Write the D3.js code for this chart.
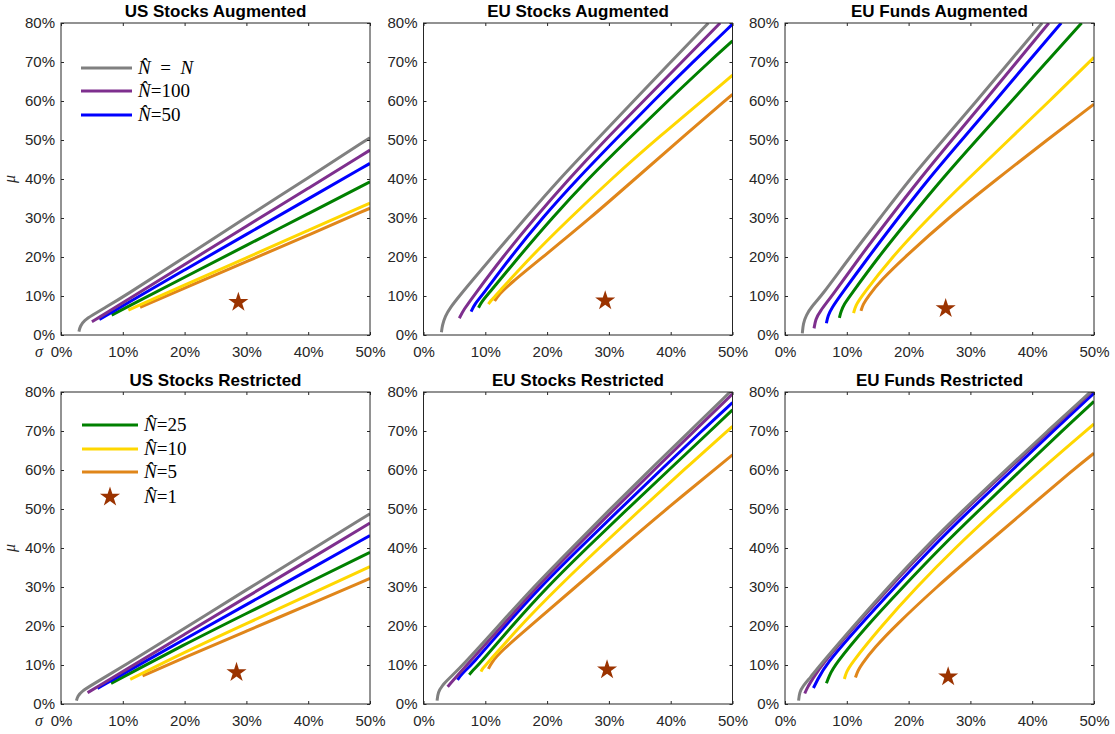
<!DOCTYPE html>
<html>
<head>
<meta charset="utf-8">
<script src="https://cdn.jsdelivr.net/npm/d3@7"></script>
<style>
  body { margin: 0; background: #fff; }
  svg { display: block; }
</style>
</head>
<body>
<svg id="svg1" width="1115" height="734"></svg>
<script>
// panel titles, row by row
var titles = ['US Stocks Augmented', 'EU Stocks Augmented', 'EU Funds Augmented',
              'US Stocks Restricted', 'EU Stocks Restricted', 'EU Funds Restricted'];

// series (drawn in this order in the legend)
var seriesNames = ['= N', '=100', '=50', '=25', '=10', '=5', '=1'];
var seriesColors = ['#808080', '#7e2f8e', '#0000ff', '#008000', '#ffd700', '#e0861a', '#9b3300'];

var xTicks = [0, 10, 20, 30, 40, 50];
var yTicks = [0, 10, 20, 30, 40, 50, 60, 70, 80];

// frontier points [sigma %, mu %] per panel: gray, purple, blue, green, yellow, orange
var usStocksAug = [
    [[2.9,0.85],[3.1,2.3],[3.8,3.8],[5,5.0],[7,6.9],[10,9.7],[20,19.9],[30,30.2],[40,40.3],[50,50.6]],
    [[5.0,3.4],[7,5.3],[10,8.3],[20,18.1],[30,27.9],[40,37.6],[50,47.4]],
    [[6.2,4.0],[8,5.6],[10,7.5],[20,16.7],[30,25.8],[40,34.9],[50,44.0]],
    [[8.2,5.1],[10,6.6],[20,14.8],[30,23.0],[40,31.1],[50,39.3]],
    [[10.9,6.4],[20,12.8],[30,19.8],[40,26.8],[50,33.8]],
    [[12.8,7.1],[20,12.0],[30,18.8],[40,25.6],[50,32.5]]
];
var euStocksAug = [
    [[2.9,0.7],[3.05,2.5],[3.5,4.8],[4.3,7.0],[5.9,10.2],[8,14.2],[11.1,20],[16.5,30],[22,40],[28.0,50],[34,60],[40,70],[46.1,80]],
    [[5.8,4.3],[6.5,6.5],[8.1,10],[12.8,20],[18,30],[23.5,40],[29.4,50],[35.6,60],[41.8,70],[48,80]],
    [[7.7,6.0],[8.3,8],[9.4,10],[14.1,20],[19.2,30],[24.9,40],[31,50],[37.2,60],[43.6,70],[50,79.7]],
    [[8.9,7.0],[9.4,8.5],[10.2,10],[15.4,20],[20.8,30],[26.6,40],[33,50],[39.5,60],[46.2,70],[50,75.4]],
    [[10.5,7.9],[11,9],[11.6,10],[17.3,20],[23.7,30],[30.4,40],[37.5,50],[50,66.6]],
    [[11.5,8.7],[12.1,10.2],[13.8,12.9],[19.7,20.5],[27,30],[34.2,40],[41.4,50],[50,61.7]]
];
var euFundsAug = [
    [[2.8,0.4],[2.95,3],[3.4,5],[4.3,7.3],[5.9,10],[10.5,20],[15.4,30],[20.2,40],[25.6,50],[31,60],[36.3,70],[41.6,80]],
    [[4.7,1.7],[4.95,4],[5.6,6],[7.6,10],[12.1,20],[16.9,30],[21.8,40],[27,50],[32.3,60],[37.5,70],[42.7,80]],
    [[6.7,3.0],[6.95,5],[7.6,7],[8.9,10],[13.5,20],[18.3,30],[23.2,40],[28.6,50],[34,60],[39.3,70],[44.7,80]],
    [[8.8,4.4],[9.05,6],[9.6,8],[10.5,10],[15.1,20],[20.2,30],[25.4,40],[31,50],[36.7,60],[42.3,70],[48,80]],
    [[11.1,5.6],[11.4,7.5],[12.4,10],[17.3,20],[23.2,30],[29.6,40],[36.2,50],[42.8,60],[50,71.2]],
    [[12.3,6.2],[12.6,7.8],[13.5,10],[15.5,14],[19.4,20],[26.4,30],[34.3,40],[42.4,50],[50,59.2]]
];
var usStocksRes = [
    [[2.5,0.86],[2.7,2.0],[3.4,3.3],[5,4.9],[10,9.6],[20,19.4],[30,29.3],[40,39.0],[50,48.8]],
    [[4.3,2.9],[6,4.5],[10,8.3],[20,17.9],[30,27.4],[40,36.9],[50,46.4]],
    [[5.9,4.0],[10,7.7],[20,16.6],[30,25.5],[40,34.3],[50,43.2]],
    [[8.1,5.3],[20,15.3],[30,23.2],[40,31.1],[50,38.9]],
    [[11.2,6.3],[20,13.3],[30,20.6],[40,27.9],[50,35.2]],
    [[13.2,7.2],[20,11.9],[30,18.7],[40,25.4],[50,32.2]]
];
var euStocksRes = [
    [[2.2,0.85],[2.35,3],[3.0,4.7],[4.1,6.5],[6.4,10],[12.1,20],[17.8,30],[24.0,40],[30.2,50],[36.6,60],[43.1,70],[49.6,80]],
    [[3.9,4.4],[4.6,5.7],[7.0,10],[12.7,20],[18.3,30],[24.5,40],[30.9,50],[37.3,60],[43.8,70],[50,79.5]],
    [[5.5,6.2],[6.2,7.8],[7.8,10],[13.2,20],[18.9,30],[25.3,40],[31.8,50],[38.4,60],[45.0,70],[50,77.3]],
    [[7.4,7.5],[7.9,8.5],[8.9,10],[14.3,20],[20,30],[26.4,40],[33.0,50],[39.7,60],[46.4,70],[50,75.4]],
    [[9.3,8.3],[9.6,9.2],[10.1,10],[15.6,20],[21.8,30],[28.4,40],[35.2,50],[42.1,60],[50,71.2]],
    [[10.5,9.0],[11,10.6],[12.5,13.5],[17.3,20],[24.6,30],[31.9,40],[39.3,50],[50,63.9]]
];
var euFundsRes = [
    [[2.2,0.85],[2.35,3.0],[2.9,4.6],[4.1,6.8],[5.7,10],[11.1,20],[16.7,30],[22.6,40],[29.0,50],[35.7,60],[42.5,70],[49.4,80]],
    [[3.2,2.7],[3.6,4.2],[4.5,6.5],[5.9,10],[11.3,20],[17,30],[22.9,40],[29.3,50],[36.0,60],[42.8,70],[49.6,80]],
    [[4.6,4.1],[5.2,6],[6.5,10],[12,20],[17.8,30],[23.7,40],[30.1,50],[36.8,60],[43.4,70],[50,79.7]],
    [[6.7,5.3],[7.1,7],[8,10],[13.2,20],[19.1,30],[25.1,40],[31.6,50],[38.2,60],[44.8,70],[50,77.6]],
    [[9.6,6.4],[9.9,8],[10.5,10],[15.6,20],[21.3,30],[27.5,40],[34.3,50],[41.3,60],[50,71.8]],
    [[11.4,6.8],[11.8,8.5],[12.3,10],[14.5,14.5],[17.8,20],[24.5,30],[31.8,40],[39.2,50],[46.6,60],[50,64.3]]
];

// single portfolio (N hat = 1) per panel
var starSigma = [28.7, 29.4, 26.0, 28.4, 29.7, 26.4];
var starMu = [8.4, 8.8, 6.8, 8.1, 8.8, 7.0];

var panels = [usStocksAug, euStocksAug, euFundsAug, usStocksRes, euStocksRes, euFundsRes];

var svg = d3.select('#svg1');

var lefts = [61, 423.5, 785];
var tops = [23, 392];
var pw = 309, ph = 312;
var tickCol = '#262626';
var sansFont = '"Liberation Sans", Arial, Helvetica, sans-serif';
var serifFont = '"Liberation Serif", "Times New Roman", serif';

var x = d3.scaleLinear().domain([0, 50]).range([0, pw]);
var y = d3.scaleLinear().domain([0, 80]).range([ph, 0]);

// basis spline smooths out the small reading errors between points
var line = d3.line()
    .x(function(d) { return x(d[0]); })
    .y(function(d) { return y(d[1]); })
    .curve(d3.curveBasis);

var star = d3.symbol().type(d3.symbolStar).size(125);

panels.forEach(function(curves, i) {
    var col = i % 3, row = Math.floor(i / 3);
    var g = svg.append('g')
        .attr('transform', 'translate(' + lefts[col] + ',' + tops[row] + ')');

    g.append('clipPath').attr('id', 'clip' + i)
        .append('rect').attr('width', pw).attr('height', ph);

    var plot = g.append('g').attr('clip-path', 'url(#clip' + i + ')');

    // draw star first, then curves from orange up to gray (gray ends on top)
    plot.append('path')
        .attr('d', star)
        .attr('transform', 'translate(' + x(starSigma[i]) + ',' + y(starMu[i]) + ')')
        .attr('fill', seriesColors[6]);

    for (var k = curves.length - 1; k >= 0; k--) {
        plot.append('path')
            .datum(curves[k])
            .attr('d', line)
            .attr('fill', 'none')
            .attr('stroke', seriesColors[k])
            .attr('stroke-width', 3)
            .attr('stroke-linecap', 'butt');
    }

    // axes with ticks pointing inside, box on
    var ax = g.append('g').attr('transform', 'translate(0,' + ph + ')')
        .call(d3.axisBottom(x).tickValues(xTicks).tickSize(-3).tickPadding(11)
            .tickFormat(function(d) { return d + '%'; }));
    var ay = g.append('g')
        .call(d3.axisLeft(y).tickValues(yTicks).tickSize(-3).tickPadding(6)
            .tickFormat(function(d) { return d + '%'; }));
    var axT = g.append('g')
        .call(d3.axisTop(x).tickValues(xTicks).tickSize(-3).tickFormat(''));
    var ayR = g.append('g').attr('transform', 'translate(' + pw + ',0)')
        .call(d3.axisRight(y).tickValues(yTicks).tickSize(-3).tickFormat(''));

    [ax, ay, axT, ayR].forEach(function(a) {
        a.select('.domain').remove();
        a.selectAll('line').attr('stroke', tickCol).attr('stroke-width', 1);
        a.selectAll('text').attr('fill', tickCol)
            .style('font-family', sansFont).style('font-size', '15px');
    });

    g.append('rect')
        .attr('width', pw).attr('height', ph)
        .attr('fill', 'none')
        .attr('stroke', tickCol)
        .attr('stroke-width', 1);

    g.append('text')
        .attr('x', pw / 2).attr('y', -6)
        .attr('text-anchor', 'middle')
        .style('font-family', sansFont)
        .style('font-weight', 'bold')
        .style('font-size', '17px')
        .attr('fill', '#000')
        .text(titles[i]);

    if (col === 0) {
        g.append('text')
            .attr('x', -22).attr('y', ph + 22)
            .attr('text-anchor', 'middle')
            .style('font-family', serifFont)
            .style('font-style', 'italic')
            .style('font-size', '16px')
            .attr('fill', tickCol)
            .text('σ');
        g.append('text')
            .attr('transform', 'translate(-46,' + (ph / 2) + ') rotate(-90)')
            .attr('text-anchor', 'middle')
            .style('font-family', serifFont)
            .style('font-style', 'italic')
            .style('font-size', '16px')
            .attr('fill', tickCol)
            .text('μ');
    }
});

// legends: first three series in the top-left panel, rest in the bottom-left panel
function legendEntry(px, py, idx, x0, x1, tx) {
    var gl = svg.append('g').attr('transform', 'translate(' + px + ',' + py + ')');
    if (idx < 6) {
        gl.append('line')
            .attr('x1', x0).attr('x2', x1)
            .attr('y1', 0).attr('y2', 0)
            .attr('stroke', seriesColors[idx])
            .attr('stroke-width', 3);
    } else {
        gl.append('path')
            .attr('d', star)
            .attr('transform', 'translate(' + ((x0 + x1) / 2) + ',0)')
            .attr('fill', seriesColors[idx]);
    }
    var t = gl.append('text')
        .attr('x', tx).attr('y', 6)
        .style('font-family', serifFont)
        .style('font-size', '19px')
        .attr('fill', '#000');
    t.append('tspan').style('font-style', 'italic').text('N\u0302');
    t.append('tspan').text(idx === 0 ? '\u2002=\u2002' : '=');
    if (idx === 0) {
        t.append('tspan').style('font-style', 'italic').text('N');
    } else {
        t.append('tspan').text(seriesNames[idx].slice(1));
    }
}

var legTopY = [68, 91, 115];
var legBotY = [425, 449, 472, 497];
[0, 1, 2].forEach(function(k) { legendEntry(61, legTopY[k], k, 20, 71, 77); });
[3, 4, 5, 6].forEach(function(k, j) { legendEntry(61, legBotY[j], k, 21, 77, 83); });
</script>
</body>
</html>
